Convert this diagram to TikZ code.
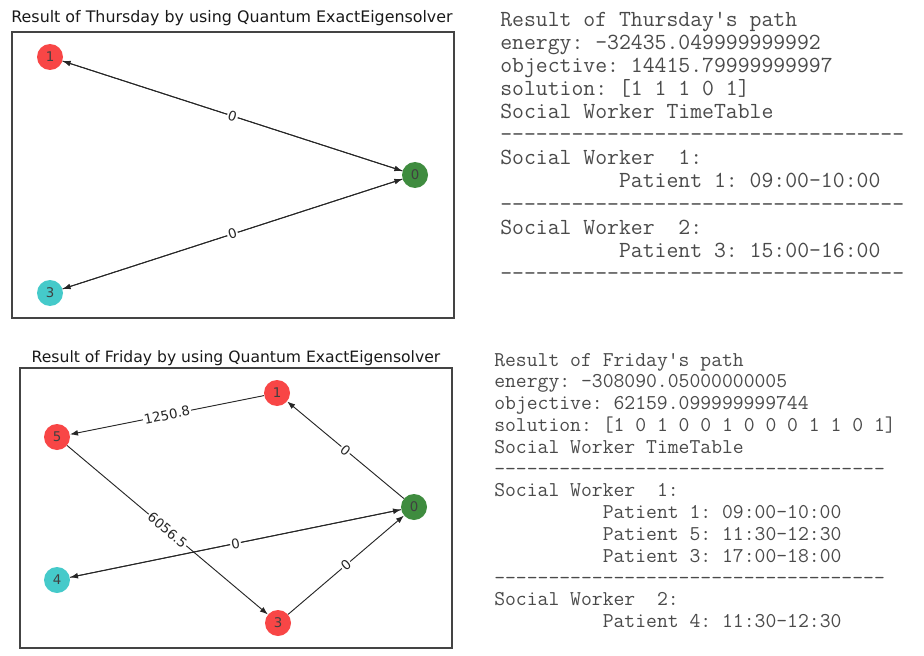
\documentclass[tikz,border=0pt]{standalone}
\usepackage{fontspec}
\setsansfont{DejaVu Sans}
\usetikzlibrary{arrows.meta, positioning}

\definecolor{nodered}{HTML}{F84646}
\definecolor{nodegreen}{HTML}{3F8C3F}
\definecolor{nodecyan}{HTML}{45CACA}
\definecolor{framegray}{HTML}{444444}
\definecolor{textgray}{HTML}{4A4A4A}

\begin{document}
\begin{tikzpicture}[x=0.75pt, y=-0.75pt,
  vertex/.style={circle, minimum size=19.5pt, inner sep=0pt, font=\sffamily\fontsize{10}{11}\selectfont, text=black!75},
  edge/.style={draw=black!85, line width=0.7pt},
  tip/.style={-{Latex[length=6pt, width=4.4pt]}},
  elabel/.style={fill=white, inner sep=0.8pt, sloped, font=\sffamily\fontsize{10}{11}\selectfont, text=black!85},
  plottitle/.style={anchor=base, font=\sffamily\fontsize{#1}{12}\selectfont, text=black!90},
  panel/.style={draw=framegray, line width=0.8pt},
  logline/.style={anchor=base west, inner sep=0pt, text=textgray, font=\ttfamily\frenchspacing\fontsize{#1}{#1}\selectfont}]

\useasboundingbox (0,0) rectangle (924,656);

% Thursday
\node[plottitle=11.9] (thutitle) at (232,23) {Result of Thursday by using Quantum ExactEigensolver};
\draw[panel] (12,32) rectangle (454,318);
\node[vertex, fill=nodered] (t1) at (50,57) {1};
\node[vertex, fill=nodegreen] (t0) at (415,175) {0};
\node[vertex, fill=nodecyan] (t3) at (50,293) {3};
\draw[edge, tip] (t0) -- (t1);
\draw[edge, tip] (t1) -- (t0);
\draw[edge, tip] (t0) -- (t3);
\draw[edge, tip] (t3) -- (t0);
\path (t1) -- node[elabel] (tl1) {0} (t0);
\path (t3) -- node[elabel] (tl3) {0} (t0);

% Friday
\node[plottitle=11.7] (frititle) at (236,362) {Result of Friday by using Quantum ExactEigensolver};
\draw[panel] (20,368) rectangle (452,648);
\node[vertex, fill=nodered] (f1) at (277,393) {1};
\node[vertex, fill=nodered] (f5) at (57,437) {5};
\node[vertex, fill=nodegreen] (f0) at (414,507) {0};
\node[vertex, fill=nodecyan] (f4) at (57,580) {4};
\node[vertex, fill=nodered] (f3) at (278,623) {3};
\draw[edge, tip] (f1) -- (f5);
\draw[edge, tip] (f5) -- (f3);
\draw[edge, tip] (f0) -- (f1);
\draw[edge, tip] (f0) -- (f4);
\draw[edge, tip] (f4) -- (f0);
\draw[edge, tip] (f3) -- (f0);
\path (f1) -- node[elabel] (fl15) {1250.8} (f5);
\path (f5) -- node[elabel] (fl53) {6056.5} (f3);
\path (f0) -- node[elabel] (fl01) {0} (f1);
\path (f4) -- node[elabel] (fl04) {0} (f0);
\path (f3) -- node[elabel] (fl30) {0} (f0);

% Thursday log
\foreach \txt [count=\i] in {Result of Thursday's path,
    energy: -32435.049999999992,
    objective: 14415.79999999997,
    solution: [1 1 1 0 1],
    Social Worker TimeTable,
    ----------------------------------,
    Social Worker\ \ 1:,
    \phantom{0000000000}Patient 1: 09:00-10:00,
    ----------------------------------,
    Social Worker\ \ 2:,
    \phantom{0000000000}Patient 3: 15:00-16:00,
    ----------------------------------}
  \node[logline=17.3] (thulog\i) at (500,{27+23*(\i-1)}) {\txt};

% Friday log
\foreach \txt [count=\i] in {Result of Friday's path,
    energy: -308090.05000000005,
    objective: 62159.099999999744,
    solution: [1 0 1 0 0 1 0 0 0 1 1 0 1],
    Social Worker TimeTable,
    ------------------------------------,
    Social Worker\ \ 1:,
    \phantom{0000000000}Patient 1: 09:00-10:00,
    \phantom{0000000000}Patient 5: 11:30-12:30,
    \phantom{0000000000}Patient 3: 17:00-18:00,
    ------------------------------------,
    Social Worker\ \ 2:,
    \phantom{0000000000}Patient 4: 11:30-12:30}
  \node[logline=15.8] (frilog\i) at (494,{366+21.8*(\i-1)}) {\txt};
\end{tikzpicture}
\end{document}
